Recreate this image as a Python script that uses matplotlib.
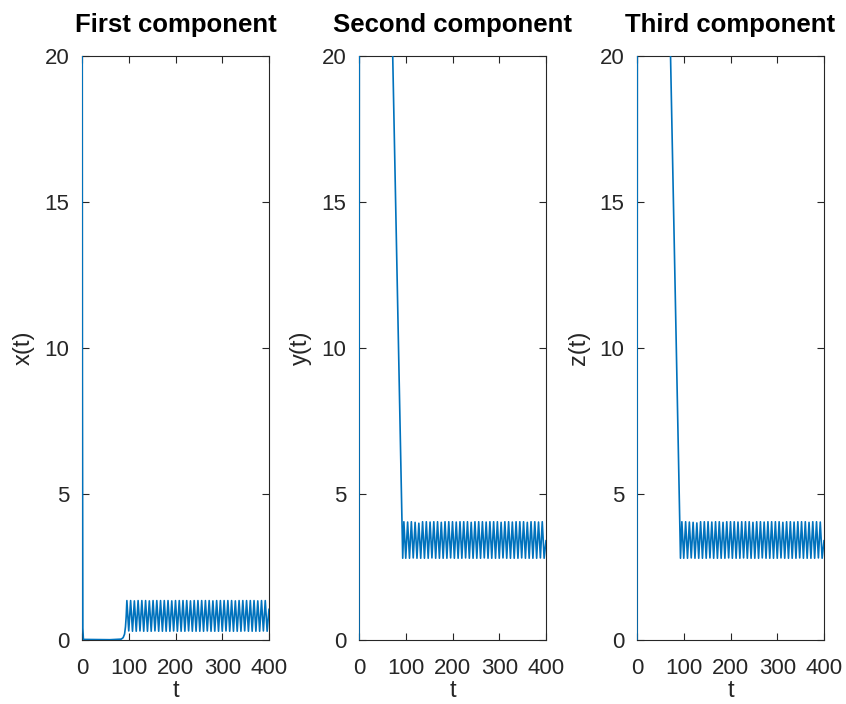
import numpy as np
import matplotlib
matplotlib.use('Agg')
from matplotlib import pyplot as plt

# transient part
x_pre_t = [0, 0.8, 1.8, 3, 60, 84, 88, 91, 93, 94.5]
x_pre = [32, 9, 0.4, 0.02, 0.01, 0.03, 0.08, 0.2, 0.45, 0.8]
y_pre_t = [0, 2.5, 93.5]
y_pre = [0, 76, 2.8]
z_pre_t = [0, 2.5, 93]
z_pre = [0, 76, 2.8]

# oscillation: peaks and troughs
peak_t = [96, 104, 112, 120, 128, 136, 144, 152, 160, 168, 176, 184, 192,
          200, 208, 216, 224, 232, 240, 248, 256, 264, 272, 280, 288, 296,
          304, 312, 320, 328, 336, 344, 352, 360, 368, 376, 384, 392]
trough_t = [100, 108, 116, 124, 132, 140, 148, 156, 164, 172, 180, 188, 196,
            204, 212, 220, 228, 236, 244, 252, 260, 268, 276, 284, 292, 300,
            308, 316, 324, 332, 340, 348, 356, 364, 372, 380, 388, 396]
x_peak = [1.35, 1.35, 1.34, 1.35, 1.35, 1.35, 1.34, 1.35, 1.35, 1.35, 1.35, 1.35, 1.34,
          1.35, 1.35, 1.35, 1.35, 1.34, 1.35, 1.35, 1.35, 1.35, 1.35, 1.34, 1.35, 1.35,
          1.35, 1.35, 1.35, 1.34, 1.35, 1.35, 1.35, 1.35, 1.35, 1.34, 1.35, 1.35]
x_trough = [0.31, 0.30, 0.30, 0.31, 0.30, 0.30, 0.30, 0.31, 0.30, 0.30, 0.30, 0.30, 0.31,
            0.30, 0.30, 0.30, 0.31, 0.30, 0.30, 0.30, 0.30, 0.31, 0.30, 0.30, 0.30, 0.30,
            0.31, 0.30, 0.30, 0.30, 0.30, 0.31, 0.30, 0.30, 0.30, 0.30, 0.31, 0.30]
y_peak = [4.05, 4.04, 4.05, 4.03, 4.00, 4.05, 4.05, 4.04, 4.05, 4.05, 4.03, 4.05, 4.05,
          4.05, 4.04, 4.05, 4.05, 4.05, 4.03, 4.05, 4.05, 4.05, 4.04, 4.05, 4.05, 4.05,
          4.03, 4.05, 4.05, 4.04, 4.05, 4.05, 4.05, 4.03, 4.05, 4.05, 4.04, 4.05]
y_trough = [2.80, 2.80, 2.81, 2.80, 2.80, 2.80, 2.80, 2.81, 2.80, 2.80, 2.80, 2.80, 2.81,
            2.80, 2.80, 2.80, 2.81, 2.80, 2.80, 2.80, 2.80, 2.81, 2.80, 2.80, 2.80, 2.80,
            2.81, 2.80, 2.80, 2.80, 2.80, 2.81, 2.80, 2.80, 2.80, 2.80, 2.81, 2.80]
z_peak = [4.05, 4.05, 4.04, 4.03, 4.01, 4.05, 4.05, 4.05, 4.04, 4.05, 4.05, 4.03, 4.05,
          4.05, 4.05, 4.04, 4.05, 4.05, 4.05, 4.03, 4.05, 4.05, 4.04, 4.05, 4.05, 4.05,
          4.05, 4.03, 4.05, 4.05, 4.04, 4.05, 4.05, 4.05, 4.03, 4.05, 4.05, 4.04]
z_trough = y_trough
x_end, y_end, z_end = 1.05, 3.4, 3.4

titles = ['First component', 'Second component', 'Third component']
ylabels = ['x(t)', 'y(t)', 'z(t)']
xticks = [0, 100, 200, 300, 400]
yticks = [0, 5, 10, 15, 20]


def build(pre_t, pre, peaks, troughs, end):
    t = np.column_stack([peak_t, trough_t]).ravel()
    v = np.column_stack([peaks, troughs]).ravel()
    return (np.concatenate([pre_t, t, [400]]),
            np.concatenate([pre, v, [end]]))


series = [build(x_pre_t, x_pre, x_peak, x_trough, x_end),
          build(y_pre_t, y_pre, y_peak, y_trough, y_end),
          build(z_pre_t, z_pre, z_peak, z_trough, z_end)]

plt.rcParams['font.family'] = ['Liberation Sans', 'DejaVu Sans']
fig = plt.figure(figsize=(8.46, 7.04), dpi=100)
lefts = [82 / 846, 359 / 846, 637 / 846]
for i in range(3):
    ax = fig.add_axes([lefts[i], 64 / 704, 187 / 846, 584 / 704])
    t, v = series[i]
    ax.plot(t, v, color='#0072BD', linewidth=1.2, zorder=3)
    ax.set_xlim(0, 400)
    ax.set_ylim(0, 20)
    ax.set_xticks(xticks)
    ax.set_yticks(yticks)
    ax.tick_params(direction='in', top=True, right=True, length=5, width=0.8,
                   labelsize=16, colors='#262626')
    ax.tick_params(axis='x', pad=13)
    ax.tick_params(axis='y', pad=9)
    for s in ax.spines.values():
        s.set_color('#262626')
        s.set_linewidth(0.8)
    ax.set_title(titles[i], fontsize=18.5, fontweight='bold', pad=17)
    ax.set_xlabel('t', fontsize=17, color='#262626', labelpad=1)
    ax.set_ylabel(ylabels[i], fontsize=17, color='#262626', labelpad=7)

plt.savefig('out.png', dpi=100)
